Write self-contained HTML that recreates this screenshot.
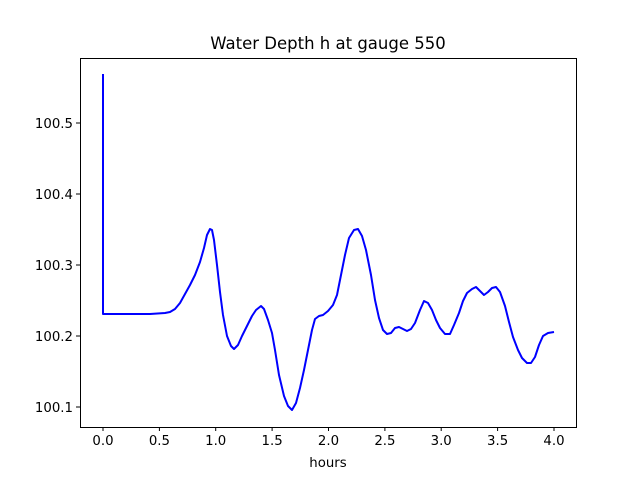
<!DOCTYPE html><html><head><style>body{margin:0;background:#fff}svg{display:block}text{font-family:"DejaVu Sans","Liberation Sans",sans-serif}</style></head><body>
<svg width="640" height="480" xmlns="http://www.w3.org/2000/svg">
<rect width="640" height="480" fill="#fff"/>
<text x="328" y="49" font-size="16.5" text-anchor="middle">Water Depth h at gauge 550</text>
<polyline fill="none" stroke="#0000ff" stroke-width="2" stroke-linejoin="round" points="103,74 103,314 150,314 165,313 170,312 175,309 180,303 185,294 190,285 195,275 200,262 204,248 207,235 210,229 212,230 214,240 217,265 220,292 223,315 227,336 231,346 234,349 238,345 242,336 247,326 252,316 256,310 261,306 264,309 268,320 272,333 275,350 279,375 284,396 288,406 292,410 296,403 300,388 304,370 308,350 312,330 315,319 319,316 323,315 328,311 333,305 337,295 341,275 345,255 349,238 354,230 358,229 362,236 366,250 371,275 375,300 379,318 383,330 387,334 391,333 395,328 399,327 403,329 407,331 411,329 415,323 420,310 424,301 428,303 432,310 436,320 440,328 445,334 450,334 454,325 459,313 463,301 467,293 472,289 476,287 480,291 484,295 488,292 492,288 496,287 500,292 505,306 509,322 513,337 518,350 522,358 527,363 531,363 535,357 539,345 543,336 548,333 554,332"/>
<rect x="80.5" y="58.5" width="496" height="369" fill="none" stroke="#000" stroke-width="1"/>
<g stroke="#000" stroke-width="1">
<line x1="103" y1="427" x2="103" y2="431"/><line x1="159.4" y1="427" x2="159.4" y2="431"/><line x1="215.7" y1="427" x2="215.7" y2="431"/><line x1="272.1" y1="427" x2="272.1" y2="431"/><line x1="328.5" y1="427" x2="328.5" y2="431"/><line x1="384.9" y1="427" x2="384.9" y2="431"/><line x1="441.2" y1="427" x2="441.2" y2="431"/><line x1="497.6" y1="427" x2="497.6" y2="431"/><line x1="554" y1="427" x2="554" y2="431"/>
<line x1="76" y1="123" x2="80" y2="123"/><line x1="76" y1="194" x2="80" y2="194"/><line x1="76" y1="265" x2="80" y2="265"/><line x1="76" y1="336" x2="80" y2="336"/><line x1="76" y1="407" x2="80" y2="407"/>
</g>
<g font-size="13.3" text-anchor="middle">
<text x="103" y="445">0.0</text><text x="159.4" y="445">0.5</text><text x="215.7" y="445">1.0</text><text x="272.1" y="445">1.5</text><text x="328.5" y="445">2.0</text><text x="384.9" y="445">2.5</text><text x="441.2" y="445">3.0</text><text x="497.6" y="445">3.5</text><text x="554" y="445">4.0</text>
<text x="328" y="467">hours</text>
</g>
<g font-size="13.3" text-anchor="end">
<text x="73" y="128">100.5</text><text x="73" y="199">100.4</text><text x="73" y="270">100.3</text><text x="73" y="341">100.2</text><text x="73" y="412">100.1</text>
</g>
</svg></body></html>
